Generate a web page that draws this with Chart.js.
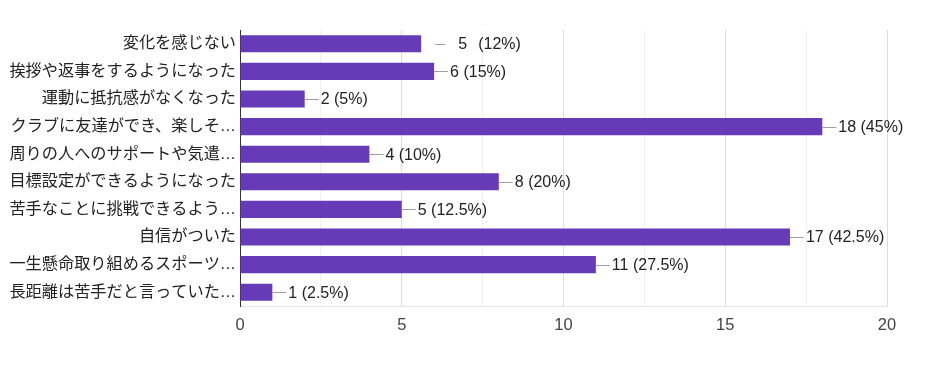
<!DOCTYPE html>
<html>
<head>
<meta charset="utf-8">
<script src="https://cdn.jsdelivr.net/npm/chart.js@4"></script>
<style>
  html, body { margin: 0; padding: 0; background: #fff; }
  #wrap { width: 950px; height: 386px; position: relative; }
</style>
</head>
<body>
<div id="wrap"><canvas id="c" width="950" height="386"></canvas></div>
<script>
const categories = [
  '変化を感じない',
  '挨拶や返事をするようになった',
  '運動に抵抗感がなくなった',
  'クラブに友達ができ、楽しそ…',
  '周りの人へのサポートや気遣…',
  '目標設定ができるようになった',
  '苦手なことに挑戦できるよう…',
  '自信がついた',
  '一生懸命取り組めるスポーツ…',
  '長距離は苦手だと言っていた…'
];
const values = [5.6, 6, 2, 18, 4, 8, 5, 17, 11, 1];
const countLabels = ['5', '6', '2', '18', '4', '8', '5', '17', '11', '1'];
const pctLabels = ['(12%)', '(15%)', '(5%)', '(45%)', '(10%)', '(20%)', '(12.5%)', '(42.5%)', '(27.5%)', '(2.5%)'];
const xTickLabels = [0, 5, 10, 15, 20];

const FONT = "'Liberation Sans', Arial, 'Noto Sans CJK JP', sans-serif";

const leaderPlugin = {
  id: 'leader',
  afterDatasetsDraw(chart, args, opts) {
    const ctx = chart.ctx;
    const meta = chart.getDatasetMeta(0);
    ctx.save();
    ctx.font = '16px ' + FONT;
    ctx.textAlign = 'left';
    ctx.textBaseline = 'middle';
    meta.data.forEach((bar, i) => {
      const x = bar.x, y = Math.round(bar.y) + 0.5;
      const sp = (opts.special && opts.special[i]) || null;
      ctx.strokeStyle = '#9e9e9e';
      ctx.lineWidth = 1;
      ctx.beginPath();
      if (sp) {
        ctx.moveTo(x + sp.lineFrom, y);
        ctx.lineTo(x + sp.lineTo, y);
      } else {
        ctx.moveTo(x, y);
        ctx.lineTo(x + 14, y);
      }
      ctx.stroke();
      ctx.fillStyle = '#222222';
      if (sp) {
        ctx.fillText(countLabels[i], x + sp.countAt, bar.y + 1);
        ctx.fillText(pctLabels[i], x + sp.pctAt, bar.y + 1);
      } else {
        ctx.fillText(countLabels[i] + ' ' + pctLabels[i], x + 16, bar.y + 1);
      }
    });
    ctx.restore();
  }
};

new Chart(document.getElementById('c'), {
  type: 'bar',
  data: {
    labels: categories,
    datasets: [{
      data: values,
      backgroundColor: '#673ab7',
      borderWidth: 0,
      categoryPercentage: 1.0,
      barPercentage: 0.62
    }]
  },
  plugins: [leaderPlugin],
  options: {
    indexAxis: 'y',
    responsive: false,
    animation: false,
    layout: { padding: { top: 30, right: 63, bottom: 0, left: 0 } },
    plugins: {
      legend: { display: false },
      tooltip: { enabled: false },
      leader: { special: { 0: { lineFrom: 14, lineTo: 24, countAt: 37, pctAt: 57 } } }
    },
    scales: {
      x: {
        min: 0, max: 20,
        afterFit(scale) { scale.height = 80; },
        ticks: {
          stepSize: 2.5,
          autoSkip: false,
          maxRotation: 0,
          padding: 10,
          color: '#444444',
          font: { size: 16.5, family: FONT },
          callback(v) { return xTickLabels.includes(v) ? String(v) : ''; }
        },
        grid: {
          drawTicks: false,
          color(ctx) {
            const v = ctx.tick ? ctx.tick.value : 0;
            if (v === 0) return 'rgba(0,0,0,0)';
            return (v % 5 === 0) ? '#dddddd' : '#efefef';
          }
        },
        border: { display: true, color: '#e6e6e6' }
      },
      y: {
        afterFit(scale) { scale.width = 240; },
        ticks: {
          padding: 4,
          color: '#222222',
          font: { size: 16.2, family: FONT },
          autoSkip: false
        },
        grid: { display: false, drawTicks: false },
        border: { display: true, color: '#333333', width: 1 }
      }
    }
  }
});
</script>
</body>
</html>
